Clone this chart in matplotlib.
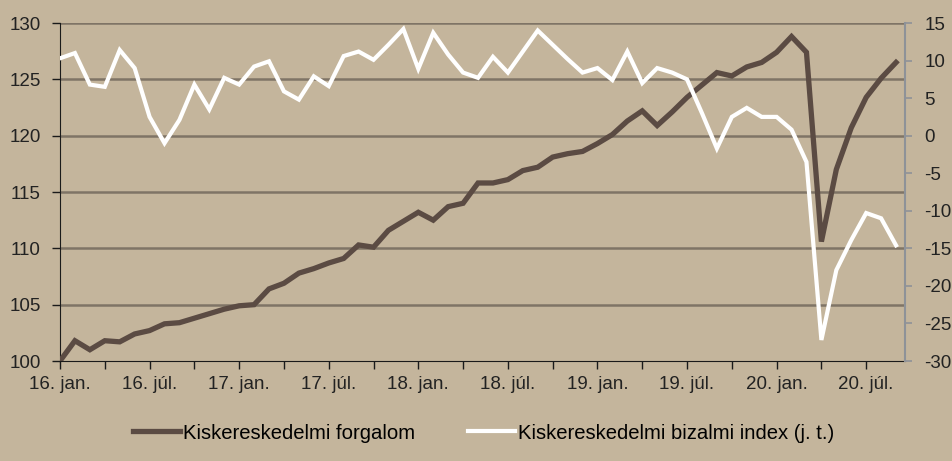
import numpy as np
import matplotlib
matplotlib.use('Agg')
import matplotlib.pyplot as plt

plt.rcParams['font.family'] = ['Liberation Sans', 'DejaVu Sans']
plt.rcParams['axes.unicode_minus'] = False

# monthly data, 2016 jan - 2020 sep
forgalom = [100.0, 101.8, 101.0, 101.8, 101.7, 102.4, 102.7, 103.3, 103.4, 103.8,
            104.2, 104.6, 104.9, 105.0, 106.4, 106.9, 107.8, 108.2, 108.7, 109.1,
            110.3, 110.1, 111.6, 112.4, 113.2, 112.5, 113.7, 114.0, 115.8, 115.8,
            116.1, 116.9, 117.2, 118.1, 118.4, 118.6, 119.3, 120.1, 121.3, 122.2,
            120.9, 122.1, 123.4, 124.5, 125.6, 125.3, 126.1, 126.5, 127.4, 128.8,
            127.4, 110.6, 117.0, 120.7, 123.4, 125.1, 126.5]
bizalmi = [10.3, 11.0, 6.8, 6.5, 11.4, 9.0, 2.5, -1.0, 2.1, 6.8,
           3.5, 7.7, 6.8, 9.2, 9.9, 5.9, 4.8, 7.9, 6.6, 10.6,
           11.2, 10.1, 12.1, 14.2, 8.9, 13.7, 10.8, 8.4, 7.7, 10.5,
           8.4, 11.2, 14.0, 12.1, 10.2, 8.4, 9.0, 7.4, 11.2, 7.0,
           9.0, 8.4, 7.5, 3.0, -1.7, 2.5, 3.7, 2.5, 2.5, 0.8,
           -3.5, -27.2, -17.9, -13.9, -10.3, -11.0, -14.6]
tick_labels = ['16. jan.', '', '16. júl.', '', '17. jan.', '', '17. júl.', '',
               '18. jan.', '', '18. júl.', '', '19. jan.', '', '19. júl.', '',
               '20. jan.', '', '20. júl.']

bg = '#c4b59c'
brown = '#5b4b43'
grid_c = '#7f7466'

months = np.arange(len(forgalom))

fig = plt.figure(figsize=(9.52, 4.61), dpi=100, facecolor=bg)
ax = fig.add_axes([60/952, 1-361/461, 845/952, 338/461])
ax.set_facecolor(bg)

ax.plot(months, forgalom, color=brown, lw=3.8, solid_joinstyle='miter',
        label='Kiskereskedelmi forgalom', zorder=3)
ax.set_ylim(100, 130)
ax.set_yticks(range(100, 131, 5))
ax.set_xlim(0, 56.6)
ax.set_xticks(np.arange(0, 55, 3))
ax.set_xticklabels(tick_labels)
for y in range(105, 131, 5):
    ax.axhline(y, color=grid_c, lw=1.8, zorder=1)

for s in ['top', 'right']:
    ax.spines[s].set_visible(False)
ax.spines['left'].set_color('#1a1a1a')
ax.spines['bottom'].set_color('#1a1a1a')
ax.tick_params(axis='both', labelsize=13.5, length=6, width=1, color='#1a1a1a',
               labelcolor='#222222', direction='out')
ax.tick_params(axis='y', pad=8)
ax.tick_params(axis='x', pad=5)

ax2 = ax.twinx()
ax2.plot(months, bizalmi, color='white', lw=3.0, solid_joinstyle='miter',
         label='Kiskereskedelmi bizalmi index (j. t.)')
ax2.set_ylim(-30, 15)
ax2.set_yticks(range(-30, 16, 5))
for s in ['top', 'left', 'bottom']:
    ax2.spines[s].set_visible(False)
ax2.spines['right'].set_color('#8e9298')
ax2.spines['right'].set_linewidth(1.5)
ax2.tick_params(axis='y', labelsize=13.5, length=5, width=1.2, color='#8e9298',
                labelcolor='#222222', pad=9)

h1, l1 = ax.get_legend_handles_labels()
h2, l2 = ax2.get_legend_handles_labels()
fig.legend(h1 + h2, l1 + l2, loc='center', bbox_to_anchor=(0.508, 1-433/461),
           ncol=2, frameon=False, fontsize=14.6, handlelength=2.3,
           handletextpad=0.15, columnspacing=2.6)

fig.savefig('out.png', dpi=100, facecolor=bg)
